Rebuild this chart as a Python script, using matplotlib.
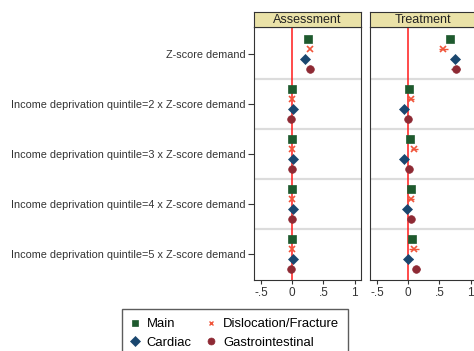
import numpy as np
from matplotlib import pyplot as plt

ROWS = ['Z-score demand',
        'Income deprivation quintile=2 x Z-score demand',
        'Income deprivation quintile=3 x Z-score demand',
        'Income deprivation quintile=4 x Z-score demand',
        'Income deprivation quintile=5 x Z-score demand']
PANELS = ['Assessment', 'Treatment']
SERIES = ['Main', 'Dislocation/Fracture', 'Cardiac', 'Gastrointestinal']

# point estimates, one list per series, rows in order
assess_est = {
    'Main':                 [0.25, 0.00, 0.00, 0.00, 0.00],
    'Dislocation/Fracture': [0.28, 0.00, 0.00, 0.00, 0.00],
    'Cardiac':              [0.21, 0.01, 0.01, 0.01, 0.01],
    'Gastrointestinal':     [0.28, -0.02, 0.00, 0.00, -0.02],
}
assess_ci = {
    'Main':                 [0.01, 0.01, 0.01, 0.01, 0.01],
    'Dislocation/Fracture': [0.01, 0.01, 0.01, 0.01, 0.01],
    'Cardiac':              [0.02, 0.01, 0.01, 0.01, 0.01],
    'Gastrointestinal':     [0.01, 0.01, 0.01, 0.01, 0.01],
}
treat_est = {
    'Main':                 [0.67, 0.02, 0.03, 0.04, 0.06],
    'Dislocation/Fracture': [0.56, 0.04, 0.10, 0.04, 0.10],
    'Cardiac':              [0.75, -0.06, -0.06, -0.02, 0.00],
    'Gastrointestinal':     [0.76, 0.00, 0.01, 0.04, 0.13],
}
treat_ci = {
    'Main':                 [0.03, 0.02, 0.02, 0.02, 0.02],
    'Dislocation/Fracture': [0.07, 0.06, 0.05, 0.06, 0.08],
    'Cardiac':              [0.07, 0.04, 0.04, 0.05, 0.07],
    'Gastrointestinal':     [0.07, 0.04, 0.04, 0.04, 0.06],
}

COLORS = {'Main': '#1e5a2e', 'Dislocation/Fracture': '#f0553a',
          'Cardiac': '#1a476f', 'Gastrointestinal': '#8e2a34'}
MARKERS = {'Main': 's', 'Dislocation/Fracture': 'x',
           'Cardiac': 'D', 'Gastrointestinal': 'o'}
SIZES = {'Main': 5.5, 'Dislocation/Fracture': 4, 'Cardiac': 5.5, 'Gastrointestinal': 5.5}
OFFSETS = [-0.3, -0.1, 0.1, 0.3]

plt.rcParams['font.family'] = 'Liberation Sans'
W, H = 474, 351
fig = plt.figure(figsize=(W / 100, H / 100), dpi=100)

def px(x0, y0, x1, y1):
    return [x0 / W, 1 - y1 / H, (x1 - x0) / W, (y1 - y0) / H]

panel_x = [(254, 361), (370, 477)]
data = [(assess_est, assess_ci), (treat_est, treat_ci)]
for p, (name, (est, ci)) in enumerate(zip(PANELS, data)):
    x0, x1 = panel_x[p]
    ax = fig.add_axes(px(x0, 27, x1, 280))
    ax.set_xlim(-0.61, 1.10)
    ax.set_ylim(len(ROWS) - 0.48, -0.53)
    for i in range(len(ROWS) - 1):
        ax.axhline(i + 0.5, color='#dcdcdc', lw=1.6, zorder=0)
    ax.axvline(0, color='#ff1a1a', lw=1.1, zorder=1)
    ypos = np.arange(len(ROWS))
    for k, s in enumerate(SERIES):
        ax.errorbar(est[s], ypos + OFFSETS[k], xerr=ci[s], fmt=MARKERS[s],
                    color=COLORS[s], ms=SIZES[s], mew=1.2 if s == 'Dislocation/Fracture' else 0.5,
                    elinewidth=1, capsize=0, zorder=3)
    ax.set_xticks([-0.5, 0, 0.5, 1])
    ax.set_xticklabels(['-.5', '0', '.5', '1'])
    ax.tick_params(axis='x', labelsize=8.5, colors='#333333', length=3, width=0.8, pad=2)
    if p == 0:
        ax.set_yticks(ypos)
        ax.set_yticklabels(ROWS)
        ax.tick_params(axis='y', labelsize=7.85, colors='#333333', length=4, width=0.8, pad=2)
    else:
        ax.set_yticks([])
    for sp in ax.spines.values():
        sp.set_color('#333333')
        sp.set_linewidth(0.8)
    # strip header
    st = fig.add_axes(px(x0, 12, x1, 27))
    st.set_facecolor('#eae2a8')
    st.set_xticks([])
    st.set_yticks([])
    for sp in st.spines.values():
        sp.set_color('#333333')
        sp.set_linewidth(0.8)
    st.text(0.5, 0.45, name, ha='center', va='center', fontsize=9, color='#222222',
            transform=st.transAxes)

order = ['Main', 'Cardiac', 'Dislocation/Fracture', 'Gastrointestinal']
leg_handles = []
for s in order:
    l, = plt.plot([], [], MARKERS[s], color=COLORS[s], ms=SIZES[s] - 0.5,
                  mew=1 if s == 'Dislocation/Fracture' else 0.5)
    leg_handles.append(l)
fig.legend(leg_handles, order, ncol=2, loc='upper left',
           bbox_to_anchor=(122 / W, 1 - 309 / H), fontsize=9.4, frameon=True,
           fancybox=False, edgecolor='#333333', handlelength=0.6, handletextpad=0.6,
           columnspacing=1.2, borderpad=0.7, labelspacing=0.5, borderaxespad=0)

fig.savefig('out.png', dpi=100)
